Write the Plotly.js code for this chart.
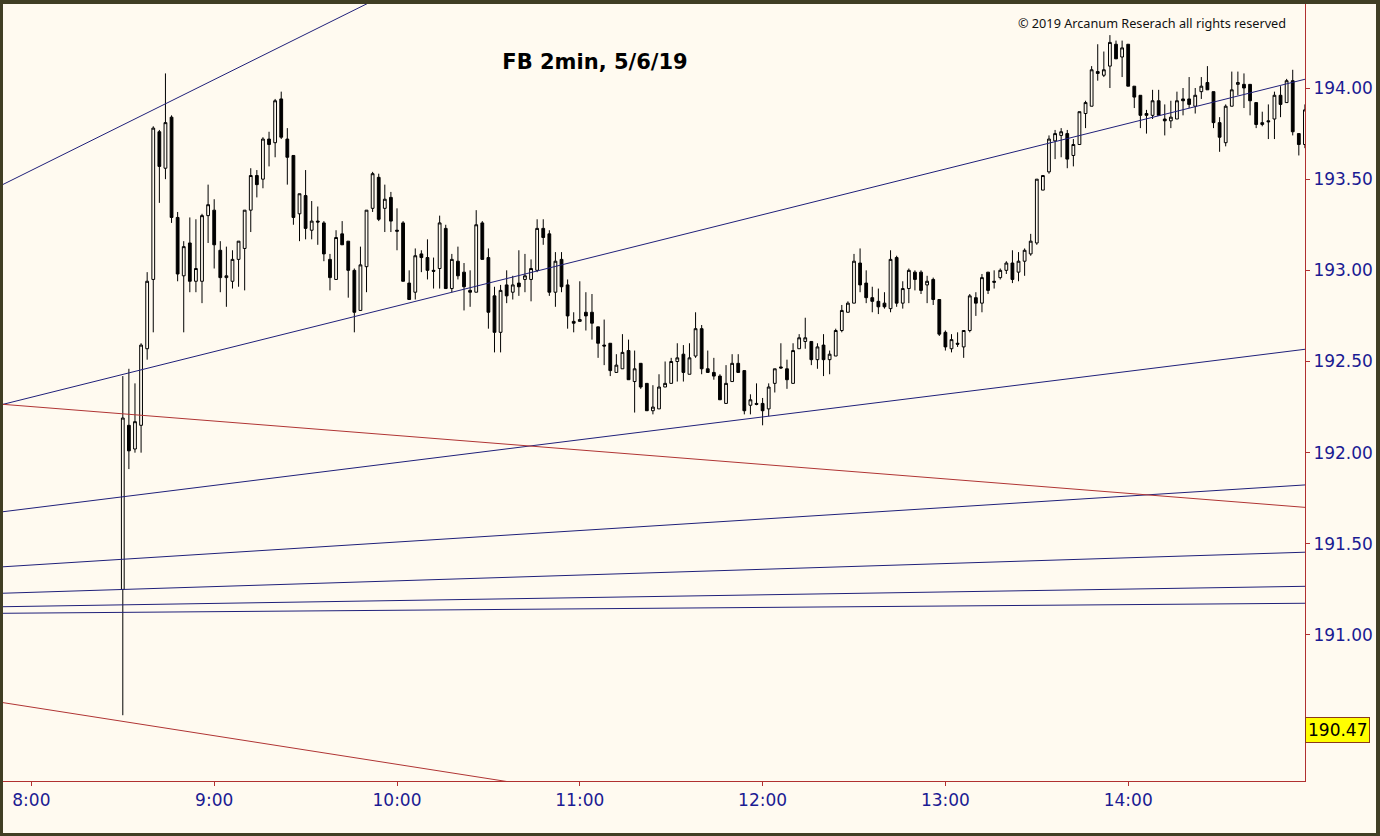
<!DOCTYPE html>
<html>
<head>
<meta charset="utf-8">
<script src="https://cdn.plot.ly/plotly-3.0.1.min.js"></script>
<style>
  html, body { margin: 0; padding: 0; width: 1380px; height: 836px; overflow: hidden; background: #403e24; }
  #chart { position: absolute; left: 3px; top: 4px; width: 1373px; height: 829px; }
</style>
</head>
<body>
<div id="chart"></div>
<script>
// ---- data ----
const sessionStart = 8 * 60 + 30;   // first bar 8:30
const barMinutes = 2;

const openP = [
  191.25,192.15,192.02,192.15,192.57,192.95,193.76,193.56,193.84,193.29,192.97,193.15,192.94,192.94,193.30,
  193.33,193.11,192.96,192.94,193.06,193.12,193.33,193.52,193.50,193.72,193.70,193.94,193.72,193.63,193.31,
  193.41,193.22,193.27,193.26,193.06,192.95,193.20,193.16,193.00,192.78,193.02,193.34,193.51,193.34,193.40,
  193.22,193.26,192.93,192.88,193.09,193.07,193.00,193.01,193.23,192.90,193.05,192.99,192.89,192.88,193.26,
  193.07,192.86,192.66,192.92,192.88,192.93,192.95,192.95,193.00,193.23,193.20,192.88,193.06,192.92,192.72,
  192.72,192.77,192.77,192.69,192.59,192.60,192.44,192.46,192.56,192.39,192.49,192.38,192.23,192.24,192.36,
  192.38,192.50,192.54,192.43,192.53,192.68,192.46,192.44,192.42,192.27,192.39,192.49,192.45,192.26,192.27,
  192.27,192.24,192.38,192.47,192.46,192.38,192.57,192.61,192.61,192.51,192.59,192.51,192.53,192.67,192.77,
  192.82,193.04,192.93,192.85,192.83,192.82,192.79,193.07,192.82,192.90,192.99,192.99,192.92,192.95,192.84,
  192.66,192.57,192.60,192.58,192.67,192.85,192.82,192.99,192.94,192.96,193.00,193.04,192.99,193.05,193.09,
  193.15,193.44,193.54,193.71,193.74,193.75,193.63,193.69,193.86,193.90,194.09,194.07,194.12,194.24,194.17,
  194.24,194.01,193.96,193.86,193.85,193.93,193.83,193.82,193.83,193.94,193.94,193.90,193.98,194.03,193.98,
  193.81,193.70,193.90,194.02,194.02,194.02,193.92,193.80,193.82,193.83,193.96,193.92,194.04,193.75,193.69
];
const highP = [
  192.42,192.46,192.38,192.60,192.99,193.79,193.77,194.08,193.85,193.32,193.16,193.29,193.28,193.31,193.47,
  193.39,193.16,193.13,193.11,193.16,193.33,193.56,193.55,193.73,193.76,193.94,193.98,193.78,193.63,193.42,
  193.55,193.38,193.35,193.27,193.09,193.22,193.27,193.16,193.01,193.13,193.33,193.54,193.53,193.47,193.43,
  193.34,193.27,193.00,193.12,193.11,193.17,193.07,193.30,193.25,193.09,193.13,193.04,193.00,193.33,193.27,
  193.12,192.91,192.92,193.00,192.97,193.11,193.09,193.06,193.28,193.28,193.22,193.10,193.10,192.95,192.77,
  192.94,192.88,192.87,192.69,192.73,192.60,192.54,192.65,192.62,192.56,192.49,192.38,192.37,192.43,192.50,
  192.52,192.60,192.59,192.60,192.77,192.70,192.56,192.52,192.43,192.48,192.54,192.54,192.45,192.32,192.38,
  192.30,192.38,192.46,192.60,192.51,192.60,192.65,192.74,192.61,192.60,192.65,192.56,192.68,192.81,192.83,
  193.09,193.12,193.00,192.91,192.90,192.88,193.11,193.08,192.94,193.01,193.00,193.00,192.97,192.96,192.84,
  192.67,192.65,192.66,192.67,192.87,192.88,192.98,192.99,193.00,193.01,193.05,193.11,193.10,193.12,193.20,
  193.50,193.52,193.74,193.77,193.78,193.77,193.72,193.87,193.93,194.12,194.24,194.20,194.29,194.26,194.26,
  194.24,194.01,193.96,193.88,193.99,193.99,193.91,193.93,193.98,194.00,194.06,194.00,194.06,194.12,193.98,
  193.84,193.91,194.09,194.09,194.08,194.02,193.92,193.87,193.91,193.98,194.01,194.05,194.10,193.75,193.91
];
const lowP = [
  190.56,191.91,192.00,192.00,192.51,192.66,193.37,193.50,193.26,192.94,192.66,192.88,192.88,192.82,193.15,
  193.01,192.88,192.80,192.90,192.91,192.89,193.21,193.40,193.45,193.57,193.62,193.72,193.47,193.25,193.16,
  193.17,193.17,193.14,193.05,192.89,192.95,193.14,192.85,192.66,192.78,192.88,193.32,193.27,193.21,193.21,
  193.11,192.94,192.84,192.84,192.99,192.95,192.90,192.90,192.90,192.88,192.95,192.78,192.80,192.88,193.06,
  192.68,192.55,192.55,192.82,192.84,192.86,192.88,192.83,192.99,193.14,192.86,192.80,192.88,192.68,192.66,
  192.72,192.67,192.62,192.52,192.48,192.42,192.44,192.46,192.40,192.22,192.35,192.23,192.21,192.24,192.36,
  192.38,192.39,192.39,192.43,192.52,192.43,192.44,192.40,192.29,192.27,192.39,192.44,192.21,192.21,192.26,
  192.15,192.20,192.33,192.46,192.35,192.38,192.57,192.57,192.48,192.46,192.42,192.43,192.53,192.66,192.77,
  192.82,192.88,192.82,192.77,192.76,192.79,192.77,192.80,192.79,192.82,192.89,192.87,192.82,192.81,192.64,
  192.56,192.55,192.58,192.52,192.66,192.75,192.77,192.87,192.90,192.95,192.98,192.93,192.94,192.97,193.08,
  193.14,193.44,193.53,193.61,193.62,193.56,193.57,193.69,193.78,193.90,194.04,194.06,194.00,194.16,194.06,
  194.01,193.89,193.78,193.75,193.83,193.85,193.74,193.78,193.83,193.85,193.89,193.86,193.94,193.99,193.78,
  193.65,193.68,193.90,193.96,193.89,193.85,193.78,193.79,193.72,193.72,193.84,193.92,193.74,193.63,193.67
];
const closeP = [
  192.19,192.01,192.17,192.59,192.94,193.78,193.57,193.81,193.29,192.98,193.13,192.94,193.01,193.30,193.36,
  193.14,192.96,192.97,193.06,193.16,193.33,193.52,193.47,193.72,193.69,193.93,193.73,193.62,193.29,193.42,
  193.23,193.27,193.265,193.09,192.96,193.18,193.14,193.00,192.77,193.03,193.33,193.53,193.28,193.39,193.27,
  193.215,192.94,192.84,193.08,193.07,193.00,192.995,193.26,192.90,193.06,192.97,192.91,192.88,193.25,193.06,
  192.77,192.66,192.89,192.86,192.92,192.91,192.97,193.01,193.23,193.18,192.88,193.05,192.91,192.75,192.71,
  192.73,192.75,192.71,192.60,192.585,192.45,192.48,192.55,192.40,192.46,192.36,192.23,192.25,192.36,192.38,
  192.50,192.52,192.44,192.52,192.68,192.46,192.44,192.42,192.29,192.38,192.49,192.44,192.23,192.29,192.265,
  192.23,192.36,192.46,192.465,192.40,192.56,192.63,192.63,192.51,192.58,192.51,192.54,192.67,192.78,192.82,
  193.05,192.92,192.85,192.83,192.80,192.80,193.06,192.82,192.90,193.00,192.95,192.89,192.94,192.84,192.65,
  192.58,192.62,192.595,192.67,192.86,192.82,192.96,192.89,192.935,193.00,193.04,192.95,193.05,193.11,193.16,
  193.50,193.52,193.72,193.75,193.76,193.61,193.69,193.87,193.92,194.10,194.08,194.10,194.25,194.16,194.22,
  194.01,193.95,193.85,193.85,193.93,193.85,193.82,193.84,193.93,193.93,193.91,193.96,194.01,193.99,193.81,
  193.73,193.90,193.99,194.03,194.00,193.93,193.80,193.81,193.815,193.96,193.91,194.04,193.76,193.69,193.88
];

// hour ticks (minutes after midnight) and labels
const hourTicks = [480, 540, 600, 660, 720, 780, 840];
const hourLabels = ['8:00', '9:00', '10:00', '11:00', '12:00', '13:00', '14:00'];
const priceTicks = [191.00, 191.50, 192.00, 192.50, 193.00, 193.50, 194.00];
const lastLabelPrice = 190.47;

// trend lines: start/end time (minutes) and price
const trendT0 = [470.68, 470.68, 470.68, 470.68, 470.68, 470.68, 470.68, 470.68, 470.68];
const trendP0 = [193.471, 192.265, 191.676, 191.374, 191.229, 191.155, 191.119, 192.265, 190.629];
const trendT1 = [600.98, 898.03, 898.03, 898.03, 898.03, 898.03, 898.03, 898.03, 898.03];
const trendP1 = [194.552, 194.048, 192.567, 191.823, 191.454, 191.267, 191.174, 191.700, 189.511];
const trendKind = ['blue', 'blue', 'blue', 'blue', 'blue', 'blue', 'blue', 'red', 'red'];

// ---- styles ----
const CREAM = '#fffaf0';
const AXIS_RED = '#b03030';
const LABEL_BLUE = '#1b1b93';
const kindColor = { blue: '#20207a', red: '#b03434' };

const times = openP.map((_, i) => sessionStart + i * barMinutes);

const traces = [];
for (let k = 0; k < trendT0.length; k++) {
  traces.push({
    type: 'scatter', mode: 'lines',
    x: [trendT0[k], trendT1[k]], y: [trendP0[k], trendP1[k]],
    line: { color: kindColor[trendKind[k]], width: 1 },
    hoverinfo: 'skip', showlegend: false
  });
}
traces.push({
  type: 'candlestick',
  x: times, open: openP, high: highP, low: lowP, close: closeP,
  increasing: { line: { color: '#000000', width: 1 }, fillcolor: CREAM },
  decreasing: { line: { color: '#000000', width: 1 }, fillcolor: '#000000' },
  whiskerwidth: 0,
  showlegend: false
});

const layout = {
  width: 1373, height: 829,
  margin: { l: 0, r: 71, t: 0, b: 52 },
  paper_bgcolor: CREAM, plot_bgcolor: CREAM,
  showlegend: false,
  boxgap: 0.35,
  title: {
    text: '<b>FB 2min, 5/6/19</b>',
    font: { family: 'DejaVu Sans', size: 21, color: '#000000' },
    xref: 'container', yref: 'container',
    x: 0.4312, y: 0.930, xanchor: 'center', yanchor: 'middle'
  },
  xaxis: {
    type: 'linear',
    range: [470.68, 898.03],
    rangeslider: { visible: false },
    showgrid: false, zeroline: false,
    showline: true, linecolor: AXIS_RED, linewidth: 1,
    ticks: 'outside', ticklen: 4, tickcolor: AXIS_RED, tickwidth: 1,
    tickmode: 'array', tickvals: hourTicks, ticktext: hourLabels,
    tickfont: { family: 'DejaVu Sans', size: 17, color: LABEL_BLUE },
    fixedrange: true
  },
  yaxis: {
    side: 'right',
    range: [190.1992, 194.4607],
    showgrid: false, zeroline: false,
    showline: true, linecolor: AXIS_RED, linewidth: 1,
    ticks: 'outside', ticklen: 4, tickcolor: AXIS_RED, tickwidth: 1,
    tickmode: 'array', tickvals: priceTicks,
    ticktext: priceTicks.map(v => v.toFixed(2)),
    tickfont: { family: 'DejaVu Sans', size: 17, color: LABEL_BLUE },
    fixedrange: true
  },
  annotations: [
    {
      text: '© 2019 Arcanum Reserach all rights reserved',
      xref: 'paper', yref: 'paper', x: 0.9869, y: 0.9755,
      xanchor: 'right', yanchor: 'middle', showarrow: false,
      font: { family: 'Noto Sans', size: 12.7, color: '#111111' }
    },
    {
      text: lastLabelPrice.toFixed(2),
      xref: 'paper', yref: 'y', x: 1, y: lastLabelPrice,
      xanchor: 'left', yanchor: 'middle', showarrow: false, yshift: 2,
      bgcolor: '#ffff00', bordercolor: '#8b3a1a', borderwidth: 1, borderpad: 2,
      font: { family: 'DejaVu Sans', size: 17, color: '#000000' }
    }
  ]
};

Plotly.newPlot('chart', traces, layout, { displayModeBar: false, staticPlot: true });
</script>
</body>
</html>
